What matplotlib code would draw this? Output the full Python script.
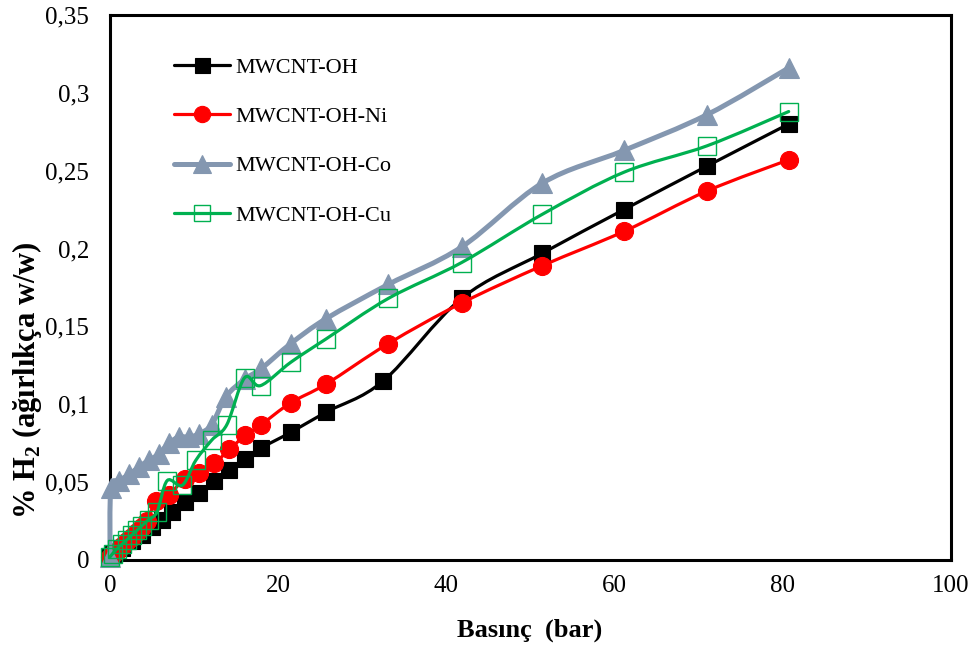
import numpy as np
import matplotlib
matplotlib.use("Agg")
import matplotlib.pyplot as plt
from matplotlib.lines import Line2D
from matplotlib.path import Path
from matplotlib.patches import PathPatch

# ---- data: pressure (bar) vs hydrogen uptake (% w/w) ----
oh_p = [0, 0.3, 1.4, 2.6, 3.8, 5.0, 6.2, 7.4, 8.9, 10.6, 12.4, 14.2, 16.1, 18.0,
        21.5, 25.7, 32.5, 41.8, 51.4, 61.1, 71.0, 80.7]
oh_h = [0.002, 0.004, 0.008, 0.012, 0.016, 0.021, 0.026, 0.031, 0.037, 0.043, 0.051,
        0.058, 0.065, 0.072, 0.082, 0.095, 0.115, 0.168, 0.197, 0.225, 0.253, 0.280]

ni_p = [0, 0.3, 0.8, 1.4, 2.0, 2.6, 3.2, 3.8, 4.4, 5.5, 7.0, 8.9, 10.6, 12.4, 14.2,
        16.1, 18.0, 21.5, 25.7, 33.1, 41.8, 51.4, 61.1, 71.0, 80.7]
ni_h = [0.002, 0.004, 0.006, 0.009, 0.012, 0.015, 0.018, 0.021, 0.025, 0.038, 0.042,
        0.052, 0.056, 0.062, 0.071, 0.080, 0.087, 0.101, 0.113, 0.139, 0.165, 0.189,
        0.211, 0.237, 0.257]

co_p = [0, 0.1, 1.1, 2.3, 3.5, 4.6, 5.8, 7.0, 8.2, 9.4, 10.6, 12.1, 13.8, 16.0, 18.0,
        21.5, 25.7, 33.1, 41.8, 51.4, 61.1, 71.0, 80.7]
co_h = [0.002, 0.046, 0.051, 0.055, 0.060, 0.064, 0.068, 0.075, 0.079, 0.079, 0.081,
        0.087, 0.105, 0.116, 0.123, 0.139, 0.155, 0.177, 0.201, 0.242, 0.263, 0.286,
        0.316]

cu_p = [0, 0.3, 0.8, 1.4, 2.0, 2.6, 3.2, 3.8, 4.6, 5.6, 6.8, 8.6, 10.2, 12.1, 13.9,
        16.0, 17.9, 21.5, 25.7, 33.1, 41.8, 51.4, 61.1, 71.0, 80.7]
cu_h = [0.002, 0.004, 0.007, 0.010, 0.013, 0.016, 0.019, 0.022, 0.026, 0.031, 0.051,
        0.048, 0.064, 0.077, 0.087, 0.117, 0.112, 0.127, 0.142, 0.168, 0.191, 0.222,
        0.249, 0.266, 0.288]

series_names = ["MWCNT-OH", "MWCNT-OH-Ni", "MWCNT-OH-Co", "MWCNT-OH-Cu"]

x_ticks = [0, 20, 40, 60, 80, 100]
y_ticks = [0, 0.05, 0.1, 0.15, 0.2, 0.25, 0.3, 0.35]
y_tick_labels = ["0", "0,05", "0,1", "0,15", "0,2", "0,25", "0,3", "0,35"]

x_label = "Basınç  (bar)"
y_label = "% H$_\\mathregular{2}$ (ağırlıkça w/w)"

# ---- styling ----
styles = [
    dict(color="#000000", lw=2.3, marker="s", ms=12, mfc="#000000", mec="#000000", mew=0.8),
    dict(color="#FF0000", lw=2.3, marker="o", ms=13, mfc="#FF0000", mec="#FF0000", mew=0.8),
    dict(color="#8497B0", lw=3.6, marker="^", ms=14, mfc="#8497B0", mec="#8497B0", mew=0.8),
    dict(color="#00B050", lw=2.3, marker="s", ms=12.5, mfc="none", mec="#00B050", mew=1.0),
]

plt.rcParams["font.family"] = ["Liberation Serif", "DejaVu Serif"]
plt.rcParams["mathtext.fontset"] = "custom"
plt.rcParams["mathtext.rm"] = "Liberation Serif:bold"
plt.rcParams["mathtext.bf"] = "Liberation Serif:bold"

W, H = 979, 651
fig = plt.figure(figsize=(W / 100, H / 100), dpi=100)
left, right, top, bottom = 110, 951, 15, 560
ax = fig.add_axes([left / W, 1 - bottom / H, (right - left) / W, (bottom - top) / H])


def smooth_path(xs, ys):
    """Cubic Bezier curve through every point (Catmull-Rom style tangents)."""
    pts = np.column_stack([xs, ys]).astype(float)
    n = len(pts)
    verts = [pts[0]]
    codes = [Path.MOVETO]
    for i in range(n - 1):
        p0 = pts[i - 1] if i > 0 else pts[i]
        p1 = pts[i]
        p2 = pts[i + 1]
        p3 = pts[i + 2] if i + 2 < n else pts[i + 1]
        c1 = p1 + (p2 - p0) / 6.0
        c2 = p2 - (p3 - p1) / 6.0
        verts += [c1, c2, p2]
        codes += [Path.CURVE4] * 3
    return Path(verts, codes)


data = [(oh_p, oh_h), (ni_p, ni_h), (co_p, co_h), (cu_p, cu_h)]
handles = []
for i, ((px, hy), st, name) in enumerate(zip(data, styles, series_names)):
    z = 3 + i
    patch = PathPatch(smooth_path(px, hy), facecolor="none", edgecolor=st["color"],
                      lw=st["lw"], zorder=z, capstyle="round", joinstyle="round",
                      clip_on=False)
    ax.add_patch(patch)
    ax.plot(px, hy, ls="none", marker=st["marker"], ms=st["ms"], mfc=st["mfc"],
            mec=st["mec"], mew=st["mew"], zorder=z, clip_on=False)
    handles.append(Line2D([], [], color=st["color"], lw=st["lw"], marker=st["marker"],
                          ms=st["ms"] * 0.9, mfc=st["mfc"], mec=st["mec"], mew=st["mew"],
                          solid_capstyle="round"))

ax.set_xlim(0, 100)
ax.set_ylim(0, 0.35)
ax.set_xticks(x_ticks)
ax.set_xticklabels([str(v) for v in x_ticks])
ax.set_yticks(y_ticks)
ax.set_yticklabels(y_tick_labels)
ax.tick_params(axis="both", length=0, labelsize=18)
ax.tick_params(axis="x", pad=11)
ax.tick_params(axis="y", pad=15)

for sp in ax.spines.values():
    sp.set_linewidth(2.2)
    sp.set_color("#000000")

fig.text(530 / W, 1 - 630 / H, x_label, ha="center", va="center",
         fontsize=19, fontweight="bold")
fig.text(27 / W, 1 - 380 / H, y_label, ha="center", va="center", rotation=90,
         fontsize=22, fontweight="bold")

leg = fig.legend(handles, series_names, loc="upper left",
                 bbox_to_anchor=(174 / W, 1 - 57 / H), frameon=False,
                 fontsize=16, handlelength=2.5, handletextpad=0.25,
                 labelspacing=1.3, borderpad=0, borderaxespad=0)

fig.savefig("out.png", dpi=100)
